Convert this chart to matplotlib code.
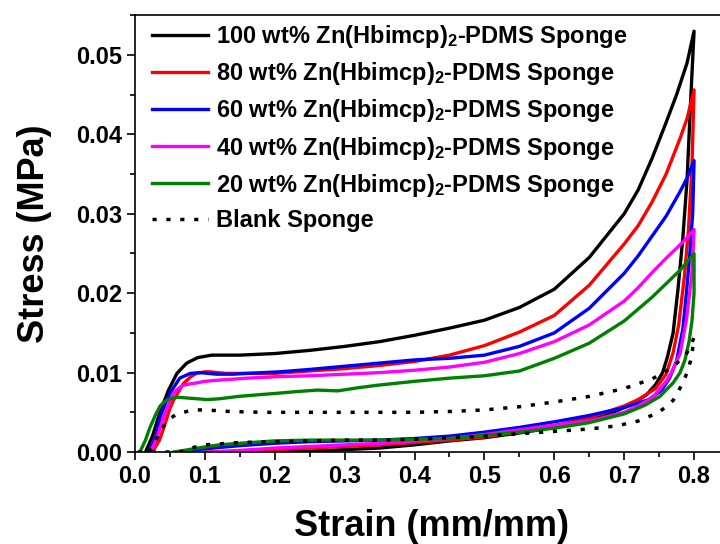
import matplotlib
matplotlib.use("Agg")
import matplotlib.pyplot as plt
from matplotlib.ticker import FormatStrFormatter

plt.rcParams["font.family"] = "Liberation Sans"
plt.rcParams["font.weight"] = "bold"
plt.rcParams["axes.labelweight"] = "bold"
plt.rcParams["mathtext.fontset"] = "custom"
plt.rcParams["mathtext.bf"] = "Liberation Sans:bold"
plt.rcParams["mathtext.default"] = "bf"

# %% data: loading branch then unloading branch
labels = [
    "100 wt% Zn(Hbimcp)$_2$-PDMS Sponge",
    "80 wt% Zn(Hbimcp)$_2$-PDMS Sponge",
    "60 wt% Zn(Hbimcp)$_2$-PDMS Sponge",
    "40 wt% Zn(Hbimcp)$_2$-PDMS Sponge",
    "20 wt% Zn(Hbimcp)$_2$-PDMS Sponge",
    "Blank Sponge",
]
colors = ["black", "red", "blue", "magenta", "green", "black"]

x100_load = [0.015, 0.025, 0.036, 0.048, 0.06, 0.074, 0.09, 0.11, 0.15, 0.2, 0.25, 0.3, 0.35,
             0.4, 0.45, 0.5, 0.55, 0.6, 0.65, 0.7, 0.72, 0.74, 0.76, 0.775, 0.79, 0.80]
y100_load = [0.0, 0.002, 0.0051, 0.0078, 0.0099, 0.0112, 0.0119, 0.0122, 0.0122, 0.0124, 0.0128,
             0.0133, 0.0139, 0.0147, 0.0156, 0.0166, 0.0182, 0.0205, 0.0245, 0.0300, 0.0330,
             0.0370, 0.0415, 0.0450, 0.0490, 0.0530]
x100_unload = [0.80, 0.795, 0.79, 0.784, 0.777, 0.770, 0.762, 0.755, 0.745, 0.732, 0.71, 0.69,
               0.65, 0.6, 0.55, 0.5, 0.45, 0.4, 0.35, 0.3, 0.25, 0.2]
y100_unload = [0.053, 0.044, 0.0343, 0.027, 0.0205, 0.0150, 0.0120, 0.0100, 0.0085, 0.0072,
               0.0060, 0.0052, 0.0040, 0.0031, 0.0024, 0.0018, 0.0014, 0.0009, 0.0005, 0.0003,
               0.0001, 0.0]

x80_load = [0.025, 0.035, 0.041, 0.05, 0.055, 0.069, 0.08, 0.088, 0.1, 0.107, 0.13, 0.16, 0.2,
            0.25, 0.3, 0.35, 0.4, 0.45, 0.5, 0.55, 0.6, 0.65, 0.7, 0.72, 0.74, 0.76, 0.78, 0.79,
            0.80]
y80_load = [0.0, 0.0015, 0.003, 0.0055, 0.0065, 0.0086, 0.0095, 0.0099, 0.0101, 0.0101, 0.0099,
            0.0099, 0.0099, 0.0102, 0.0105, 0.0109, 0.0114, 0.0122, 0.0134, 0.0151, 0.0172,
            0.0210, 0.0262, 0.0285, 0.0315, 0.0350, 0.0395, 0.0420, 0.0456]
x80_unload = [0.80, 0.797, 0.792, 0.786, 0.778, 0.770, 0.760, 0.745, 0.72, 0.7, 0.65, 0.6, 0.55,
              0.5, 0.45, 0.4, 0.35, 0.3, 0.25, 0.2, 0.15, 0.1]
y80_unload = [0.0456, 0.036, 0.028, 0.022, 0.016, 0.0125, 0.0098, 0.0080, 0.0066, 0.0058, 0.0043,
              0.0033, 0.0025, 0.0019, 0.0015, 0.0012, 0.0009, 0.0007, 0.0005, 0.0003, 0.0001,
              0.0]

x60_load = [0.02, 0.03, 0.036, 0.043, 0.05, 0.064, 0.079, 0.093, 0.105, 0.117, 0.14, 0.16, 0.207,
            0.25, 0.3, 0.35, 0.4, 0.45, 0.5, 0.55, 0.6, 0.65, 0.7, 0.72, 0.74, 0.76, 0.78, 0.79,
            0.80]
y60_load = [0.0, 0.002, 0.0044, 0.006, 0.0074, 0.0093, 0.0099, 0.0100, 0.0099, 0.0098, 0.0098,
            0.0099, 0.0101, 0.0104, 0.0108, 0.0112, 0.0116, 0.0118, 0.0122, 0.0133, 0.0150,
            0.0181, 0.0225, 0.0247, 0.0272, 0.0297, 0.0328, 0.0345, 0.0367]
x60_unload = [0.80, 0.798, 0.794, 0.789, 0.784, 0.775, 0.765, 0.754, 0.735, 0.7, 0.65, 0.6, 0.55,
              0.5, 0.45, 0.4, 0.35, 0.3, 0.25, 0.2, 0.15, 0.1, 0.07, 0.06]
y60_unload = [0.0367, 0.030, 0.025, 0.020, 0.0155, 0.0115, 0.0093, 0.0078, 0.0066, 0.0056, 0.0046,
              0.0038, 0.0031, 0.0025, 0.0020, 0.0017, 0.0015, 0.0014, 0.0013, 0.0011, 0.0008,
              0.0004, 0.0001, 0.0]

x40_load = [0.022, 0.03, 0.041, 0.05, 0.055, 0.062, 0.069, 0.08, 0.088, 0.1, 0.112, 0.16, 0.207,
            0.25, 0.3, 0.35, 0.4, 0.45, 0.5, 0.55, 0.6, 0.65, 0.7, 0.72, 0.74, 0.76, 0.78, 0.79,
            0.80]
y40_load = [0.0, 0.0015, 0.0044, 0.0064, 0.0074, 0.0080, 0.0084, 0.0086, 0.0087, 0.0089, 0.0090,
            0.0093, 0.0095, 0.0096, 0.0098, 0.0100, 0.0103, 0.0107, 0.0113, 0.0124, 0.0139,
            0.0160, 0.0190, 0.0207, 0.0226, 0.0244, 0.0261, 0.0270, 0.0280]
x40_unload = [0.80, 0.798, 0.796, 0.789, 0.78, 0.77, 0.761, 0.741, 0.72, 0.7, 0.65, 0.6, 0.55,
              0.5, 0.45, 0.4, 0.35, 0.3, 0.25, 0.2, 0.15, 0.11]
y40_unload = [0.0280, 0.024, 0.0217, 0.0166, 0.0124, 0.0104, 0.0090, 0.0069, 0.0058, 0.0050,
              0.0039, 0.0034, 0.0028, 0.0022, 0.0017, 0.0014, 0.0011, 0.0009, 0.0007, 0.0005,
              0.0002, 0.0]

x20_load = [0.007, 0.015, 0.021, 0.03, 0.036, 0.043, 0.05, 0.06, 0.075, 0.09, 0.103, 0.12, 0.148,
            0.175, 0.204, 0.23, 0.261, 0.29, 0.32, 0.346, 0.4, 0.45, 0.5, 0.55, 0.6, 0.65, 0.7,
            0.72, 0.74, 0.76, 0.78, 0.80]
y20_load = [0.0, 0.0015, 0.003, 0.0048, 0.0058, 0.0064, 0.0067, 0.0069, 0.0068, 0.0067, 0.0066,
            0.0067, 0.0070, 0.0072, 0.0074, 0.0076, 0.0078, 0.0077, 0.0081, 0.0084, 0.0089,
            0.0093, 0.0096, 0.0102, 0.0118, 0.0137, 0.0165, 0.0180, 0.0195, 0.0212, 0.0229,
            0.0250]
x20_unload = [0.80, 0.800, 0.797, 0.793, 0.787, 0.78, 0.770, 0.751, 0.73, 0.7, 0.65, 0.6, 0.55,
              0.5, 0.45, 0.4, 0.35, 0.3, 0.25, 0.2, 0.15, 0.12, 0.09, 0.07, 0.055]
y20_unload = [0.0250, 0.020, 0.0165, 0.0140, 0.0116, 0.0100, 0.0087, 0.0070, 0.0059, 0.0048,
              0.0037, 0.0030, 0.0025, 0.0021, 0.0017, 0.0016, 0.0015, 0.0015, 0.0015, 0.0014,
              0.0011, 0.0009, 0.0005, 0.0002, 0.0]

xb_load = [0.02, 0.03, 0.036, 0.043, 0.05, 0.06, 0.074, 0.085, 0.098, 0.12, 0.136, 0.183, 0.25,
           0.3, 0.35, 0.4, 0.45, 0.5, 0.55, 0.6, 0.65, 0.7, 0.74, 0.77, 0.79, 0.80]
yb_load = [0.0, 0.0015, 0.0027, 0.0035, 0.0042, 0.0048, 0.0051, 0.0053, 0.0053, 0.0052, 0.0051,
           0.0050, 0.0050, 0.0050, 0.0050, 0.0050, 0.0051, 0.0053, 0.0057, 0.0063, 0.0070,
           0.0080, 0.0092, 0.0107, 0.0125, 0.0144]
xb_unload = [0.80, 0.798, 0.795, 0.79, 0.784, 0.77, 0.75, 0.72, 0.69, 0.65, 0.6, 0.55, 0.5, 0.45,
             0.4, 0.35, 0.3, 0.25, 0.2, 0.15, 0.1, 0.08, 0.065, 0.0]
yb_unload = [0.0144, 0.0130, 0.0115, 0.0100, 0.0087, 0.0065, 0.0050, 0.0039, 0.0033, 0.0029,
             0.0026, 0.0023, 0.0020, 0.0018, 0.0016, 0.0015, 0.0015, 0.0014, 0.0013, 0.0012,
             0.0009, 0.0005, 0.0, 0.0]

series = [
    (x100_load + x100_unload, y100_load + y100_unload),
    (x80_load + x80_unload, y80_load + y80_unload),
    (x60_load + x60_unload, y60_load + y60_unload),
    (x40_load + x40_unload, y40_load + y40_unload),
    (x20_load + x20_unload, y20_load + y20_unload),
    (xb_load + xb_unload, yb_load + yb_unload),
]

# %%
fig = plt.figure(figsize=(7.2, 5.44), dpi=100)
ax = fig.add_axes([0.1875, 0.1691, 0.825, 0.8028])

for (xs, ys), lab, col in zip(series, labels, colors):
    if lab == "Blank Sponge":
        ax.plot(xs, ys, color=col, lw=2.5, ls=(0, (1.2, 2.8)), label=lab)
    else:
        ax.plot(xs, ys, color=col, lw=2.4, label=lab, solid_joinstyle="round")

ax.set_xlim(0, 0.85)
ax.set_ylim(0, 0.055)
ax.set_xticks([0.0, 0.1, 0.2, 0.3, 0.4, 0.5, 0.6, 0.7, 0.8])
ax.set_xticks([0.05, 0.15, 0.25, 0.35, 0.45, 0.55, 0.65, 0.75, 0.85], minor=True)
ax.set_yticks([0.0, 0.01, 0.02, 0.03, 0.04, 0.05])
ax.set_yticks([0.005, 0.015, 0.025, 0.035, 0.045, 0.055], minor=True)
ax.xaxis.set_major_formatter(FormatStrFormatter("%.1f"))
ax.yaxis.set_major_formatter(FormatStrFormatter("%.2f"))
ax.tick_params(which="major", direction="out", length=6, width=1.2, labelsize=17)
ax.tick_params(which="minor", direction="out", length=3.5, width=1.2)
for sp in ax.spines.values():
    sp.set_linewidth(1.2)

ax.set_xlabel("Strain (mm/mm)", fontsize=26, labelpad=15)
ax.set_ylabel("Stress (MPa)", fontsize=26, labelpad=17)

ax.legend(loc="upper left", bbox_to_anchor=(0.0, 1.02), frameon=False, fontsize=17,
          handlelength=2.4, handletextpad=0.35, labelspacing=0.43, borderpad=0.2)

plt.savefig("out.png", dpi=100)
